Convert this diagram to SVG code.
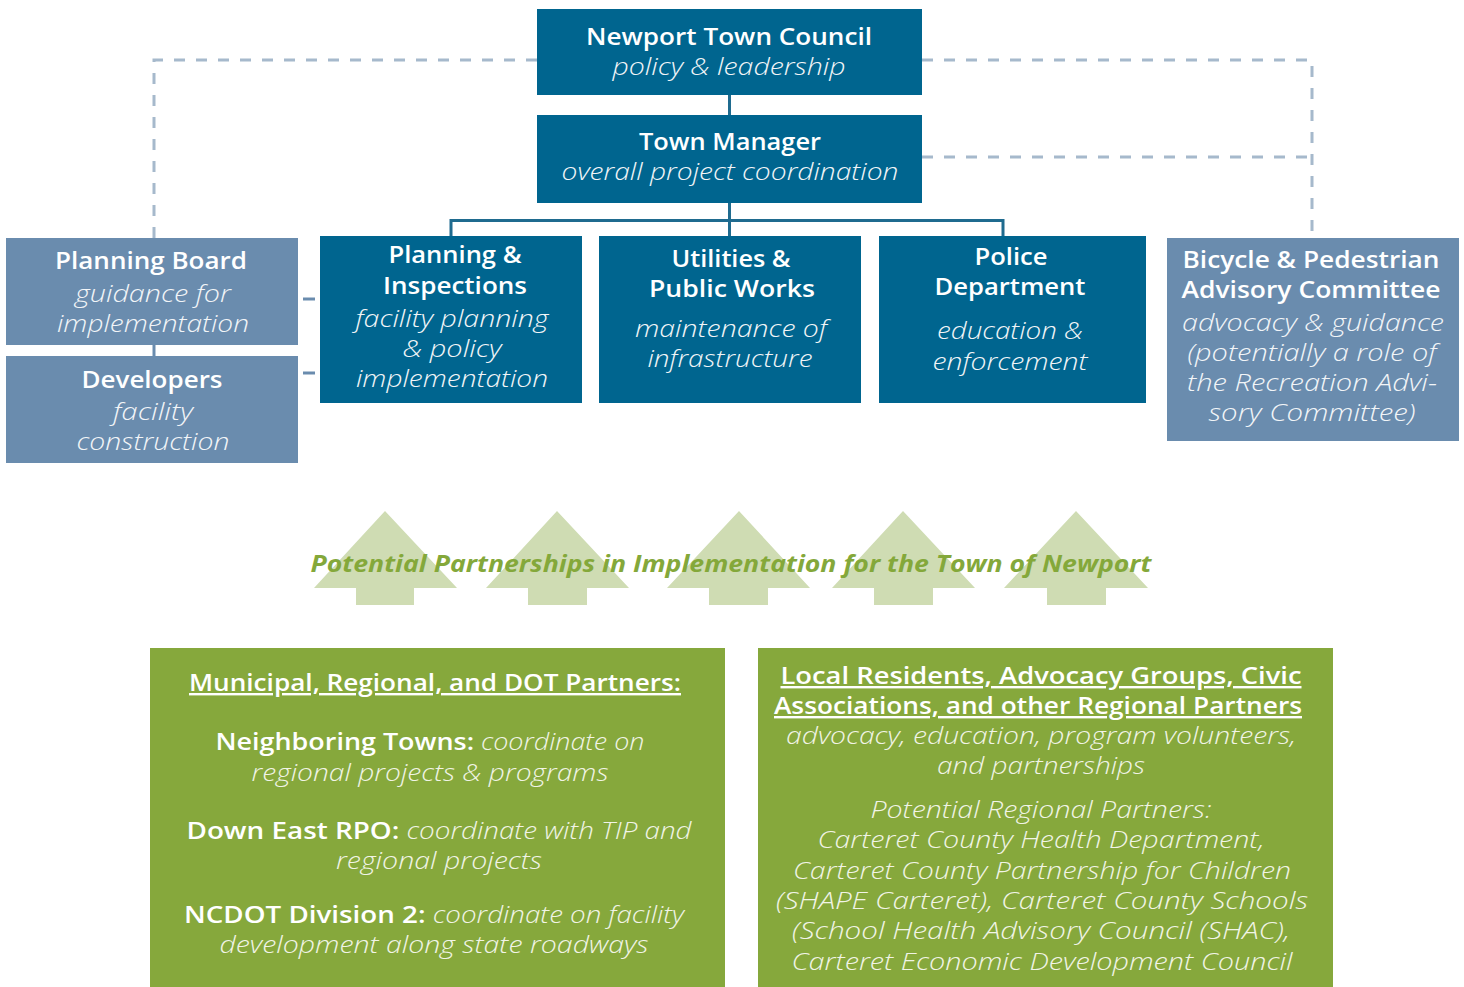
<svg xmlns="http://www.w3.org/2000/svg" width="1464" height="987" viewBox="0 0 1464 987">
<style>
.dk{fill:#00658f}
.lt{fill:#6a8cae}
.gr{fill:#86a83c}
.ar{fill:#cfdcb3}
text{font-family:"Open Sans","Liberation Sans",Arial,sans-serif;font-size:24px;fill:#ffffff;text-anchor:middle}
.b{font-weight:600}
.i{font-weight:300;font-style:italic;fill:#f2f5f8}
.gi{font-weight:300;font-style:italic;fill:#f1f4e6}
.u{font-weight:600;text-decoration:underline}
.t{font-weight:700;font-style:italic;fill:#84a83a}
.dash{fill:none;stroke:#a6b9cc;stroke-width:3;stroke-dasharray:11 11}
.solid{fill:none;stroke:#1f6b8f;stroke-width:3}
.ls{fill:none;stroke:#6a8cae;stroke-width:3}
</style>
<rect width="1464" height="987" fill="#ffffff"/>
<g id="connectors">
<path class="dash" d="M537 60 H154 V238"/>
<path class="dash" d="M922 60 H1312 V238"/>
<path class="dash" d="M922 157 H1312"/>
<path class="solid" d="M729.5 95 V115"/>
<path class="solid" d="M729.5 203 V236"/>
<path class="solid" d="M451 236 V220.5 H1003 V236"/>
<path class="ls" d="M154 345 V356"/>
<path class="ls" d="M303 299 H315"/>
<path class="ls" d="M303 373 H315"/>
</g>
<g id="council">
<rect class="dk" x="537" y="9" width="385" height="86"/>
<text x="729" y="45" class="b" textLength="286" lengthAdjust="spacingAndGlyphs">Newport Town Council</text>
<text x="729" y="75" class="i" textLength="233" lengthAdjust="spacingAndGlyphs">policy &amp; leadership</text>
</g>
<g id="manager">
<rect class="dk" x="537" y="115" width="385" height="88"/>
<text x="730" y="150" class="b" textLength="182" lengthAdjust="spacingAndGlyphs">Town Manager</text>
<text x="730" y="180" class="i" textLength="337" lengthAdjust="spacingAndGlyphs">overall project coordination</text>
</g>
<g id="planning-board">
<rect class="lt" x="6" y="238" width="292" height="107"/>
<text x="151" y="269" class="b" textLength="192" lengthAdjust="spacingAndGlyphs">Planning Board</text>
<text x="153" y="302" class="i" textLength="156" lengthAdjust="spacingAndGlyphs">guidance for</text>
<text x="153" y="332" class="i" textLength="192" lengthAdjust="spacingAndGlyphs">implementation</text>
</g>
<g id="developers">
<rect class="lt" x="6" y="356" width="292" height="107"/>
<text x="152" y="388" class="b" textLength="141" lengthAdjust="spacingAndGlyphs">Developers</text>
<text x="153" y="420" class="i" textLength="80" lengthAdjust="spacingAndGlyphs">facility</text>
<text x="153" y="450" class="i" textLength="153" lengthAdjust="spacingAndGlyphs">construction</text>
</g>
<g id="planning-inspections">
<rect class="dk" x="320" y="236" width="262" height="167"/>
<text x="455" y="263" class="b" textLength="133" lengthAdjust="spacingAndGlyphs">Planning &amp;</text>
<text x="455" y="294" class="b" textLength="144" lengthAdjust="spacingAndGlyphs">Inspections</text>
<text x="452" y="327" class="i" textLength="193" lengthAdjust="spacingAndGlyphs">facility planning</text>
<text x="452" y="357" class="i" textLength="99" lengthAdjust="spacingAndGlyphs">&amp; policy</text>
<text x="452" y="387" class="i" textLength="192" lengthAdjust="spacingAndGlyphs">implementation</text>
</g>
<g id="utilities">
<rect class="dk" x="599" y="236" width="262" height="167"/>
<text x="731" y="267" class="b" textLength="119" lengthAdjust="spacingAndGlyphs">Utilities &amp;</text>
<text x="732" y="297" class="b" textLength="166" lengthAdjust="spacingAndGlyphs">Public Works</text>
<text x="731" y="337" class="i" textLength="192" lengthAdjust="spacingAndGlyphs">maintenance of</text>
<text x="730" y="367" class="i" textLength="165" lengthAdjust="spacingAndGlyphs">infrastructure</text>
</g>
<g id="police">
<rect class="dk" x="879" y="236" width="267" height="167"/>
<text x="1011" y="265" class="b" textLength="73" lengthAdjust="spacingAndGlyphs">Police</text>
<text x="1010" y="295" class="b" textLength="151" lengthAdjust="spacingAndGlyphs">Department</text>
<text x="1010" y="339" class="i" textLength="146" lengthAdjust="spacingAndGlyphs">education &amp;</text>
<text x="1010" y="370" class="i" textLength="155" lengthAdjust="spacingAndGlyphs">enforcement</text>
</g>
<g id="bike-ped">
<rect class="lt" x="1167" y="238" width="292" height="203"/>
<text x="1311" y="268" class="b" textLength="257" lengthAdjust="spacingAndGlyphs">Bicycle &amp; Pedestrian</text>
<text x="1311" y="298" class="b" textLength="259" lengthAdjust="spacingAndGlyphs">Advisory Committee</text>
<text x="1313" y="331" class="i" textLength="262" lengthAdjust="spacingAndGlyphs">advocacy &amp; guidance</text>
<text x="1312" y="361" class="i" textLength="249" lengthAdjust="spacingAndGlyphs">(potentially a role of</text>
<text x="1312" y="391" class="i" textLength="250" lengthAdjust="spacingAndGlyphs">the Recreation Advi-</text>
<text x="1312" y="421" class="i" textLength="207" lengthAdjust="spacingAndGlyphs">sory Committee)</text>
</g>
<g id="arrows">
<polygon class="ar" points="385,511 457,588 414,588 414,605 356,605 356,588 314,588"/>
<polygon class="ar" points="557,511 629,588 587,588 587,605 528,605 528,588 486,588"/>
<polygon class="ar" points="739,511 810,588 768,588 768,605 709,605 709,588 667,588"/>
<polygon class="ar" points="903,511 975,588 933,588 933,605 874,605 874,588 832,588"/>
<polygon class="ar" points="1076,511 1148,588 1106,588 1106,605 1047,605 1047,588 1004,588"/>
<text x="731" y="572" class="t" textLength="841" lengthAdjust="spacingAndGlyphs">Potential Partnerships in Implementation for the Town of Newport</text>
</g>
<g id="municipal-partners">
<rect class="gr" x="150" y="648" width="575" height="339"/>
<text x="435" y="691" class="u" textLength="492" lengthAdjust="spacingAndGlyphs">Municipal, Regional, and DOT Partners:</text>
<text x="430" y="750" textLength="429" lengthAdjust="spacingAndGlyphs"><tspan class="b">Neighboring Towns:</tspan> <tspan class="gi">coordinate on</tspan></text>
<text x="430" y="781" class="gi" textLength="357" lengthAdjust="spacingAndGlyphs">regional projects &amp; programs</text>
<text x="439" y="839" textLength="505" lengthAdjust="spacingAndGlyphs"><tspan class="b">Down East RPO:</tspan> <tspan class="gi">coordinate with TIP and</tspan></text>
<text x="439" y="869" class="gi" textLength="206" lengthAdjust="spacingAndGlyphs">regional projects</text>
<text x="434" y="923" textLength="500" lengthAdjust="spacingAndGlyphs"><tspan class="b">NCDOT Division 2:</tspan> <tspan class="gi">coordinate on facility</tspan></text>
<text x="434" y="953" class="gi" textLength="429" lengthAdjust="spacingAndGlyphs">development along state roadways</text>
</g>
<g id="local-partners">
<rect class="gr" x="758" y="648" width="575" height="339"/>
<text x="1041" y="684" class="u" textLength="521" lengthAdjust="spacingAndGlyphs">Local Residents, Advocacy Groups, Civic </text>
<text x="1038" y="714" class="u" textLength="528" lengthAdjust="spacingAndGlyphs">Associations, and other Regional Partners</text>
<text x="1041" y="744" class="gi" textLength="510" lengthAdjust="spacingAndGlyphs">advocacy, education, program volunteers,</text>
<text x="1041" y="774" class="gi" textLength="208" lengthAdjust="spacingAndGlyphs">and partnerships</text>
<text x="1041" y="818" class="gi" textLength="341" lengthAdjust="spacingAndGlyphs">Potential Regional Partners:</text>
<text x="1041" y="848" class="gi" textLength="447" lengthAdjust="spacingAndGlyphs">Carteret County Health Department,</text>
<text x="1042" y="879" class="gi" textLength="498" lengthAdjust="spacingAndGlyphs">Carteret County Partnership for Children</text>
<text x="1042" y="909" class="gi" textLength="532" lengthAdjust="spacingAndGlyphs">(SHAPE Carteret), Carteret County Schools</text>
<text x="1041" y="939" class="gi" textLength="498" lengthAdjust="spacingAndGlyphs">(School Health Advisory Council (SHAC),</text>
<text x="1042" y="970" class="gi" textLength="501" lengthAdjust="spacingAndGlyphs">Carteret Economic Development Council</text>
</g>
</svg>
